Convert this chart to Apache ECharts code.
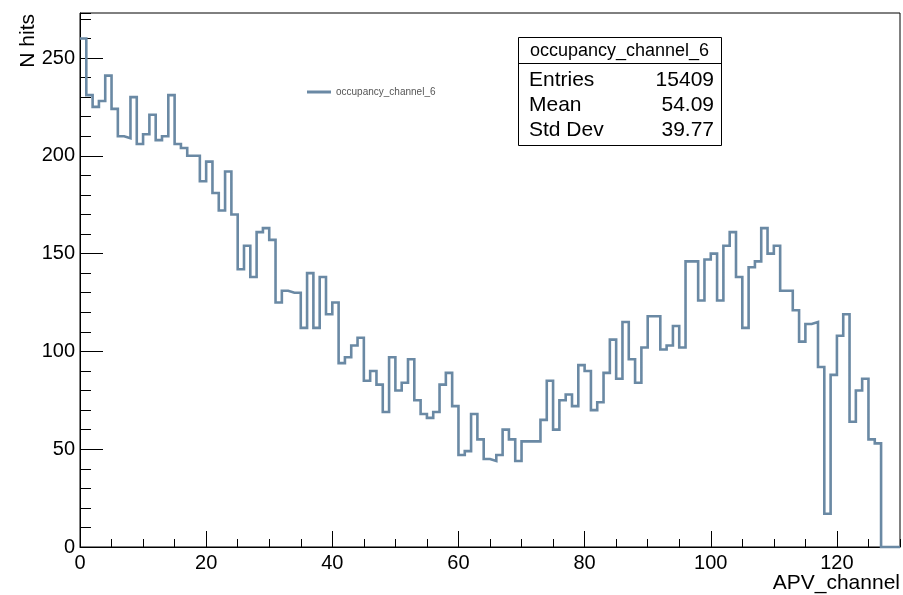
<!DOCTYPE html>
<html>
<head>
<meta charset="utf-8">
<script src="https://cdn.jsdelivr.net/npm/echarts@6/dist/echarts.min.js"></script>
<style>
  html, body { margin: 0; padding: 0; background: #fff; }
  #chart { width: 903px; height: 595px; }
</style>
</head>
<body>
<div id="chart"></div>
<script>
// ---- data (bin contents of occupancy_channel_6, bins 0..129, width 1) ----
const binCounts = [
  260, 231, 225, 228, 241, 224, 210, 209, 230, 206, 211, 221, 208, 210, 231, 206, 204, 200, 200, 187,
  197, 181, 172, 192, 170, 142, 154, 138, 161, 163, 157, 125, 131, 130, 130, 112, 140, 112, 138, 119,
  125, 94, 97, 103, 107, 85, 90, 83, 69, 97, 80, 84, 96, 75, 68, 66, 69, 83, 89, 72,
  47, 49, 68, 55, 45, 44, 47, 60, 55, 44, 54, 54, 54, 65, 85, 60, 75, 78, 72, 93,
  90, 70, 74, 89, 106, 86, 115, 96, 84, 102, 118, 118, 101, 103, 113, 102, 146, 146, 126, 147,
  150, 126, 154, 161, 138, 112, 143, 146, 163, 150, 154, 131, 131, 121, 105, 114, 115, 92, 17, 88,
  108, 119, 64, 80, 86, 55, 53, 0, 0, 0
];
const binLowEdge = 0;
const binWidth = 1;
const seriesName = 'occupancy_channel_6';
const xTitle = 'APV_channel';
const yTitle = 'N hits';
const statLabels = ['Entries', 'Mean', 'Std Dev'];
const statValues = ['15409', '54.09', '39.77'];

// ---- layout / style ----
const FONT = 'Liberation Sans, Arial, Helvetica, sans-serif';
const LINE_COLOR = '#6a89a4';
const X_MIN = 0, X_MAX = 130, Y_MIN = 0, Y_MAX = 273;

// histogram outline: left bin edges, plus the right edge of the last bin
const histPoints = binCounts.map((v, i) => [binLowEdge + i * binWidth, v]);
histPoints.push([binLowEdge + binCounts.length * binWidth, binCounts[binCounts.length - 1]]);

const chart = echarts.init(document.getElementById('chart'), null, { renderer: 'canvas' });

const statBox = { x: 518, y: 37, w: 203, h: 108, divider: 26 };
const statRowY = [80, 105, 130];
const graphics = [
  {
    type: 'text', x: 28, y: 14, rotation: Math.PI / 2,
    style: { text: yTitle, font: '21px ' + FONT, fill: '#000', align: 'right', verticalAlign: 'middle' }
  },
  {
    type: 'text', x: 900, y: 583,
    style: { text: xTitle, font: '21px ' + FONT, fill: '#000', align: 'right', verticalAlign: 'middle' }
  },
  {
    type: 'rect', shape: { x: statBox.x + 0.5, y: statBox.y + 0.5, width: statBox.w, height: statBox.h },
    style: { fill: '#fff', stroke: '#000', lineWidth: 1 }, z: 10
  },
  {
    type: 'line', shape: { x1: statBox.x, y1: statBox.y + statBox.divider + 0.5, x2: statBox.x + statBox.w, y2: statBox.y + statBox.divider + 0.5 },
    style: { stroke: '#000', lineWidth: 1 }, z: 11
  },
  {
    type: 'text', x: statBox.x + statBox.w / 2, y: statBox.y + statBox.divider / 2 + 1, z: 11,
    style: { text: seriesName, font: '18px ' + FONT, fill: '#000', align: 'center', verticalAlign: 'middle' }
  }
];
statLabels.forEach((lab, i) => {
  graphics.push({
    type: 'text', x: statBox.x + 11, y: statRowY[i], z: 11,
    style: { text: lab, font: '21px ' + FONT, fill: '#000', align: 'left', verticalAlign: 'middle' }
  });
  graphics.push({
    type: 'text', x: statBox.x + statBox.w - 7, y: statRowY[i], z: 11,
    style: { text: statValues[i], font: '21px ' + FONT, fill: '#000', align: 'right', verticalAlign: 'middle' }
  });
});

const option = {
  animation: false,
  backgroundColor: '#fff',
  textStyle: { fontFamily: FONT },
  grid: {
    left: 80, right: 3, top: 13, bottom: 48, outerBoundsMode: 'none', containLabel: false,
    show: true, borderColor: '#000', borderWidth: 1, backgroundColor: 'transparent'
  },
  legend: {
    show: true, left: 307, top: 87, padding: 0, icon: 'rect', itemWidth: 24, itemHeight: 3, itemGap: 5,
    textStyle: { fontSize: 10, color: '#555', fontFamily: FONT },
    data: [seriesName]
  },
  xAxis: [
    {
      type: 'value', min: X_MIN, max: X_MAX, interval: 20,
      axisLine: { show: true, onZero: false, lineStyle: { color: '#000', width: 1 } },
      axisTick: { show: true, inside: true, length: 16, lineStyle: { color: '#000', width: 1 } },
      axisLabel: { show: true, fontSize: 20, color: '#000', margin: 6, showMaxLabel: false, fontFamily: FONT },
      splitLine: { show: false }
    },
    {
      type: 'value', min: X_MIN, max: X_MAX, interval: 5, position: 'bottom',
      axisLine: { show: false },
      axisTick: { show: true, inside: true, length: 8, lineStyle: { color: '#000', width: 1 } },
      axisLabel: { show: false },
      splitLine: { show: false }
    }
  ],
  yAxis: [
    {
      type: 'value', min: Y_MIN, max: Y_MAX, interval: 50,
      axisLine: { show: true, onZero: false, lineStyle: { color: '#000', width: 1 } },
      axisTick: { show: true, inside: true, length: 23, lineStyle: { color: '#000', width: 1 } },
      axisLabel: { show: true, fontSize: 20, color: '#000', margin: 5, showMaxLabel: false, fontFamily: FONT },
      splitLine: { show: false }
    },
    {
      type: 'value', min: Y_MIN, max: Y_MAX, interval: 10, position: 'left',
      axisLine: { show: false },
      axisTick: { show: true, inside: true, length: 11, lineStyle: { color: '#000', width: 1 } },
      axisLabel: { show: false },
      splitLine: { show: false }
    }
  ],
  series: [
    {
      name: seriesName, type: 'line', xAxisIndex: 0, yAxisIndex: 0,
      step: 'end', showSymbol: false, symbol: 'none', clip: false,
      lineStyle: { color: LINE_COLOR, width: 2.6, join: 'miter' },
      itemStyle: { color: LINE_COLOR },
      data: histPoints, z: 3
    }
  ],
  graphic: graphics
};
chart.setOption(option);
</script>
</body>
</html>
